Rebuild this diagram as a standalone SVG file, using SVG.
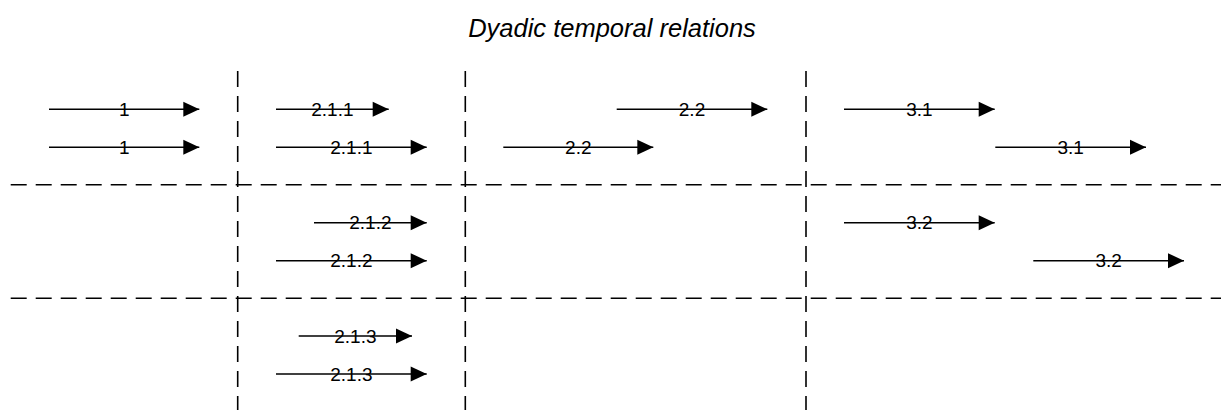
<svg xmlns="http://www.w3.org/2000/svg" width="1221" height="410" viewBox="0 0 1221 410">
  <style>
    .grid { stroke: #000; stroke-width: 1.6; stroke-dasharray: 16 9; fill: none; }
    .arrow { stroke: #000; stroke-width: 1.6; fill: none; marker-end: url(#head); }
    .lbl { font-family: "Liberation Sans", Arial, sans-serif; font-size: 19px; fill: #000; text-anchor: middle; }
    .title { font-family: "Liberation Sans", Arial, sans-serif; font-size: 25.5px; font-style: italic; fill: #000; text-anchor: middle; }
  </style>
  <defs>
    <marker id="head" markerUnits="userSpaceOnUse" markerWidth="17" markerHeight="16" refX="16" refY="7.5" orient="auto" overflow="visible">
      <path d="M0,0 L16,7.5 L0,15 Z" fill="#000"/>
    </marker>
  </defs>
  <rect width="1221" height="410" fill="#fff"/>
  <text id="title" class="title" x="612" y="37">Dyadic temporal relations</text>

  <g id="grid">
    <line class="grid" x1="237.7" y1="71" x2="237.7" y2="410"/>
    <line class="grid" x1="465.3" y1="71" x2="465.3" y2="410"/>
    <line class="grid" x1="806" y1="71" x2="806" y2="410"/>
    <line class="grid" x1="10.7" y1="184.8" x2="1221" y2="184.8"/>
    <line class="grid" x1="10.7" y1="298.3" x2="1221" y2="298.3"/>
  </g>

  <g id="connectors">
    <line id="a1a" class="arrow" x1="49" y1="109.3" x2="199.3" y2="109.3"/>
    <line id="a211a" class="arrow" x1="276" y1="109.3" x2="388.7" y2="109.3"/>
    <line id="a22a" class="arrow" x1="616.7" y1="109.3" x2="767.3" y2="109.3"/>
    <line id="a31a" class="arrow" x1="844" y1="109.3" x2="994.7" y2="109.3"/>

    <line id="a1b" class="arrow" x1="49" y1="147.3" x2="199.3" y2="147.3"/>
    <line id="a211b" class="arrow" x1="276" y1="147.3" x2="426.7" y2="147.3"/>
    <line id="a22b" class="arrow" x1="503.3" y1="147.3" x2="653.3" y2="147.3"/>
    <line id="a31b" class="arrow" x1="995.3" y1="147.3" x2="1146" y2="147.3"/>

    <line id="a212a" class="arrow" x1="314" y1="222.7" x2="426.7" y2="222.7"/>
    <line id="a32a" class="arrow" x1="844" y1="222.7" x2="994.7" y2="222.7"/>

    <line id="a212b" class="arrow" x1="276" y1="260.7" x2="426.7" y2="260.7"/>
    <line id="a32b" class="arrow" x1="1033.3" y1="260.7" x2="1184" y2="260.7"/>

    <line id="a213a" class="arrow" x1="298.7" y1="336" x2="412" y2="336"/>
    <line id="a213b" class="arrow" x1="276" y1="374" x2="426.7" y2="374"/>
  </g>

  <g id="labels">
    <text class="lbl" x="124.2" y="116">1</text>
    <text class="lbl" x="332.4" y="116">2.1.1</text>
    <text class="lbl" x="692" y="116">2.2</text>
    <text class="lbl" x="919.4" y="116">3.1</text>

    <text class="lbl" x="124.2" y="154">1</text>
    <text class="lbl" x="351.4" y="154">2.1.1</text>
    <text class="lbl" x="578.3" y="154">2.2</text>
    <text class="lbl" x="1070.7" y="154">3.1</text>

    <text class="lbl" x="370.4" y="229.4">2.1.2</text>
    <text class="lbl" x="919.4" y="229.4">3.2</text>

    <text class="lbl" x="351.4" y="267.4">2.1.2</text>
    <text class="lbl" x="1108.7" y="267.4">3.2</text>

    <text class="lbl" x="355.4" y="342.7">2.1.3</text>
    <text class="lbl" x="351.4" y="380.7">2.1.3</text>
  </g>
</svg>
